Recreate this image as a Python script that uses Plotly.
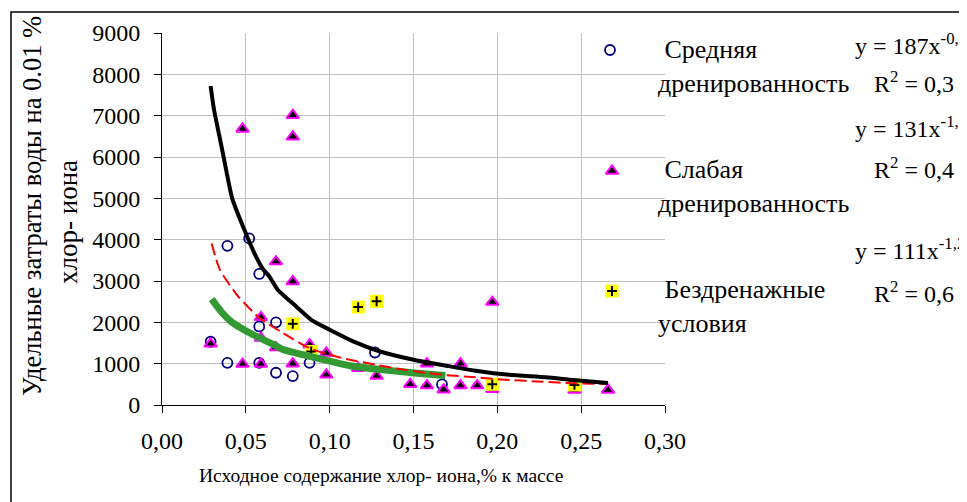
import plotly.graph_objects as go

# ---------------- data ----------------
mid_x = [0.029, 0.039, 0.039, 0.052, 0.058, 0.058, 0.058, 0.068, 0.068, 0.078, 0.088, 0.127, 0.167]
mid_y = [1530, 3850, 1020, 4030, 3170, 1900, 1020, 2000, 780, 700, 1020, 1270, 500]

weak_x = [0.029, 0.048, 0.048, 0.059, 0.059, 0.059, 0.068, 0.068, 0.078, 0.078, 0.078, 0.078, 0.088, 0.098,
          0.098, 0.117, 0.128, 0.148, 0.158, 0.158, 0.168, 0.178, 0.178, 0.188, 0.197, 0.197, 0.246, 0.266]
weak_y = [1480, 6680, 990, 2120, 1620, 990, 3470, 1390, 7010, 6490, 2990, 1000, 1460, 1260,
          730, 890, 700, 500, 1000, 470, 370, 1000, 470, 470, 2490, 380, 365, 365]

nodr_x = [0.078, 0.089, 0.117, 0.128, 0.197, 0.246]
nodr_y = [1965, 1295, 2370, 2510, 500, 485]

# trend curves
black_x = [0.029, 0.031, 0.034, 0.037, 0.042, 0.049, 0.055, 0.060, 0.064, 0.069, 0.080, 0.089, 0.100,
           0.114, 0.130, 0.150, 0.171, 0.187, 0.207, 0.229, 0.245, 0.266]
black_y = [7720, 7150, 6550, 5950, 4980, 4250, 3680, 3300, 3110, 2790, 2385, 2060, 1820,
           1540, 1295, 1095, 940, 830, 730, 670, 605, 530]

red_x = [0.0296, 0.0345, 0.0454, 0.0583, 0.0722, 0.088, 0.108, 0.128, 0.148, 0.1675, 0.187, 0.207, 0.227, 0.245, 0.265]
red_y = [3910, 3275, 2630, 2100, 1740, 1375, 1130, 970, 830, 730, 670, 605, 565, 525, 510]

green_x = [0.0296, 0.0355, 0.0415, 0.0494, 0.0573, 0.0673, 0.0722, 0.092, 0.112, 0.132, 0.152, 0.169]
green_y = [2560, 2250, 2010, 1810, 1640, 1450, 1340, 1140, 950, 850, 770, 715]

x_ticks = [0, 0.05, 0.10, 0.15, 0.20, 0.25, 0.30]
x_labels = ["0,00", "0,05", "0,10", "0,15", "0,20", "0,25", "0,30"]
y_ticks = [0, 1000, 2000, 3000, 4000, 5000, 6000, 7000, 8000, 9000]
y_labels = [str(v) for v in y_ticks]

legend_names = ["&nbsp;Средняя<br>дренированность",
                "&nbsp;Слабая<br>дренированность",
                "&nbsp;Бездренажные<br>условия"]
equations = ["y = 187x<sup>-0,7</sup>", "y = 131x<sup>-1,0</sup>", "y = 111x<sup>-1,2</sup>"]
r2_texts = ["R<sup>2</sup> = 0,3", "R<sup>2</sup> = 0,4", "R<sup>2</sup> = 0,6"]

x_title = "Исходное содержание хлор- иона,% к массе"
y_title1 = "Удельные затраты воды на 0.01 %"
y_title2 = "хлор- иона"

# ---------------- layout geometry (reference pixel coords) ----------------
W, H = 967, 502
OFF = 8                      # default page margin of the html body
L, R, T, B = 162, 665, 33, 405
FONT = "Liberation Serif"


def fx(px):
    return (px - L) / (R - L)


def fy(py):
    return (B - py) / (B - T)


fig = go.Figure()

circle_m = dict(symbol="circle-open", size=10, color="#000080", line=dict(width=1.8))
tri_m = dict(symbol="triangle-up", size=11, color="black", line=dict(color="#FF00FF", width=2))
sq_m = dict(symbol="square", size=13, color="#FFFF00", line=dict(width=0))
plus_m = dict(symbol="cross-thin", size=7, color="black", line=dict(color="black", width=2))

# data markers
fig.add_trace(go.Scatter(x=mid_x, y=mid_y, mode="markers", marker=circle_m))
fig.add_trace(go.Scatter(x=weak_x, y=weak_y, mode="markers", marker=tri_m))
fig.add_trace(go.Scatter(x=nodr_x, y=nodr_y, mode="markers", marker=sq_m))
fig.add_trace(go.Scatter(x=nodr_x, y=nodr_y, mode="markers", marker=plus_m))

# trend curves
fig.add_trace(go.Scatter(x=green_x, y=green_y, mode="lines",
                         line=dict(color="#339933", width=7, shape="spline", smoothing=0.6)))
fig.add_trace(go.Scatter(x=red_x, y=red_y, mode="lines",
                         line=dict(color="#FF0000", width=2, dash="12px,5px", shape="spline", smoothing=0.6)))
fig.add_trace(go.Scatter(x=black_x, y=black_y, mode="lines",
                         line=dict(color="black", width=4, shape="spline", smoothing=0.6)))

# legend symbols on an overlay axis (0..1 of plot area)
leg_sym_px = [(610, 50), (612, 171), (612, 291)]
lx = [fx(p[0]) for p in leg_sym_px]
ly = [fy(p[1]) for p in leg_sym_px]
for i, m in [(0, circle_m), (1, tri_m), (2, sq_m), (2, plus_m)]:
    fig.add_trace(go.Scatter(x=[lx[i]], y=[ly[i]], xaxis="x2", yaxis="y2", mode="markers", marker=m))

annotations = []
leg_text_px = [(656, 66), (656, 186), (656, 306)]
for t, (px, py) in zip(legend_names, leg_text_px):
    annotations.append(dict(x=fx(px), y=fy(py), xref="paper", yref="paper", text=t, showarrow=False,
                            xanchor="left", yanchor="middle", align="left",
                            font=dict(family=FONT, size=26, color="black")))
eq_px = [(853, 44), (853, 127), (853, 249)]
r2_px = [(872, 82), (872, 168), (872, 292)]
for t, (px, py) in zip(equations, eq_px):
    annotations.append(dict(x=fx(px), y=fy(py), xref="paper", yref="paper", text=t, showarrow=False,
                            xanchor="left", yanchor="middle", font=dict(family=FONT, size=24, color="black")))
for t, (px, py) in zip(r2_texts, r2_px):
    annotations.append(dict(x=fx(px), y=fy(py), xref="paper", yref="paper", text=t, showarrow=False,
                            xanchor="left", yanchor="middle", font=dict(family=FONT, size=24, color="black")))
annotations.append(dict(x=fx(381), y=fy(475), xref="paper", yref="paper", text=x_title, showarrow=False,
                        xanchor="center", yanchor="middle", font=dict(family=FONT, size=19.5, color="black")))
annotations.append(dict(x=fx(32), y=fy(398), xref="paper", yref="paper", text=y_title1, showarrow=False,
                        textangle=-90, xanchor="center", yanchor="bottom",
                        font=dict(family=FONT, size=26.5, color="black")))
annotations.append(dict(x=fx(68), y=fy(222), xref="paper", yref="paper", text=y_title2, showarrow=False,
                        textangle=-90, xanchor="center", yanchor="middle",
                        font=dict(family=FONT, size=27, color="black")))

shapes = [
    dict(type="rect", xref="paper", yref="paper", x0=fx(570), x1=fx(W + 20), y0=fy(343), y1=fy(0),
         fillcolor="white", line=dict(width=0), layer="between"),
    dict(type="rect", xref="paper", yref="paper", x0=fx(11), x1=fx(W + 20), y0=fy(H + 20), y1=fy(12),
         fillcolor="rgba(0,0,0,0)", line=dict(color="black", width=1.5), layer="above"),
]

axis_font = dict(family=FONT, size=24, color="black")
fig.update_layout(
    width=W - OFF, height=H - OFF,
    margin=dict(l=L - OFF, r=W - R, t=T - OFF, b=H - B, pad=0),
    paper_bgcolor="white", plot_bgcolor="white",
    font=dict(family=FONT, color="black"),
    showlegend=False,
    xaxis=dict(range=[0, 0.30], tickvals=x_ticks, ticktext=x_labels, showgrid=True, gridcolor="#c0c0c0",
               gridwidth=1, zeroline=False, showline=True, linecolor="black", linewidth=1,
               ticks="outside", ticklen=7, tickcolor="black", tickfont=axis_font, ticklabelstandoff=7),
    yaxis=dict(range=[0, 9000], tickvals=y_ticks, ticktext=y_labels, showgrid=True, gridcolor="#c0c0c0",
               gridwidth=1, zeroline=False, showline=True, linecolor="black", linewidth=1,
               ticks="outside", ticklen=7, tickcolor="black", tickfont=axis_font, ticklabelstandoff=9),
    xaxis2=dict(range=[0, 1], overlaying="x", visible=False, fixedrange=True),
    yaxis2=dict(range=[0, 1], overlaying="y", visible=False, fixedrange=True),
    annotations=annotations,
    shapes=shapes,
)

fig.write_html("out.html")
